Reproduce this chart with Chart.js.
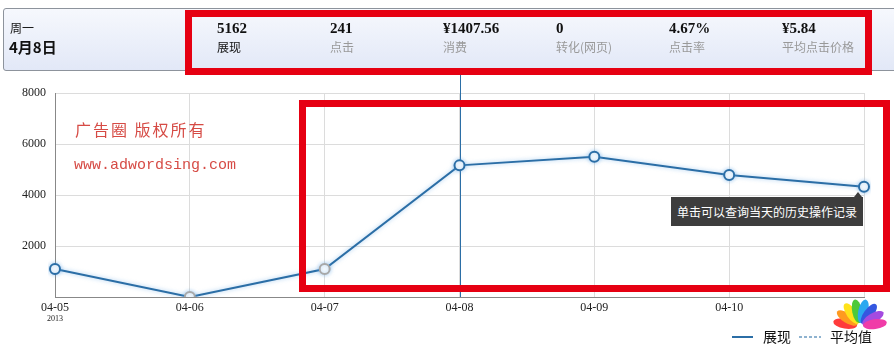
<!DOCTYPE html>
<html>
<head>
<meta charset="utf-8">
<script src="https://cdn.jsdelivr.net/npm/chart.js@4"></script>
<style>
  body { margin: 0; background: #fff; width: 894px; height: 349px; overflow: hidden; position: relative; font-family: "Noto Sans CJK SC", sans-serif; }
  #chart { position: absolute; left: 0; top: 0; }
  .hdr { position: absolute; left: 3px; top: 8px; width: 900px; height: 61px; border: 1px solid #8d939c; border-radius: 3px;
         background: linear-gradient(#f6f8fd, #e2e8f7); }
  .day { position: absolute; left: 10px; top: 21px; font-size: 12px; color: #111; line-height: 14px; }
  .date { position: absolute; left: 9px; top: 38px; font-size: 15px; font-weight: bold; color: #111; line-height: 18px; }
  .stat { position: absolute; top: 20px; }
  .stat b { display: block; font-family: "Liberation Serif", serif; font-size: 15px; color: #111; line-height: 17px; }
  .stat span { display: block; font-size: 12px; color: #999; line-height: 16px; margin-top: 2px; }
  .redbox { position: absolute; border: 7px solid #e60012; box-sizing: border-box; }
  .tip { position: absolute; left: 671px; top: 197px; width: 192px; height: 29px; background: #3d3d3d; color: #fff;
         font-size: 12px; line-height: 29px; text-align: center; white-space: nowrap; }
  .tip:after { content: ""; position: absolute; right: 1px; top: -5px; border-left: 4px solid transparent; border-right: 4px solid transparent; border-bottom: 5px solid #3d3d3d; }
</style>
</head>
<body>
<canvas id="chart" width="894" height="349"></canvas>
<div class="hdr"></div>
<div class="day">周一</div>
<div class="date">4月8日</div>
<div id="stats"></div>
<div class="redbox" style="left:185px;top:10px;width:687px;height:65px;"></div>
<div class="redbox" style="left:299px;top:100px;width:591px;height:192px;"></div>
<div class="tip">单击可以查询当天的历史操作记录</div>
<script>
// 数据
var labels = ["04-05", "04-06", "04-07", "04-08", "04-09", "04-10", "04-11"];
var impressions = [1100, 0, 1100, 5162, 5500, 4780, 4320];
var yTicks = [0, 2000, 4000, 6000, 8000];
var statValues = ["5162", "241", "¥1407.56", "0", "4.67%", "¥5.84"];
var statNames = ["展现", "点击", "消费", "转化(网页)", "点击率", "平均点击价格"];
var statLeft = [217, 330, 443, 556, 669, 782];
var selectedDay = 3; // 04-08

// 顶部汇总
var statsDiv = document.getElementById("stats");
statValues.forEach(function (v, i) {
  var d = document.createElement("div");
  d.className = "stat";
  d.style.left = statLeft[i] + "px";
  d.innerHTML = "<b>" + v + "</b><span" + (i === 0 ? ' style="color:#111"' : "") + ">" + statNames[i] + "</span>";
  statsDiv.appendChild(d);
});

var blue = "#2b6ea6";
var pointBorders = impressions.map(function (v, i) { return (i === 1 || i === 2) ? "#a8a8a8" : blue; });

// 额外绘制：水印、十字线、年份、图例、图标
var extras = {
  id: "extras",
  beforeDatasetsDraw: function (chart) {
    var ctx = chart.ctx, a = chart.chartArea;
    var x = chart.scales.x.getPixelForValue(selectedDay);
    ctx.save();
    ctx.strokeStyle = blue;
    ctx.lineWidth = 1;
    ctx.beginPath();
    ctx.moveTo(Math.round(x) + 0.5, 75);
    ctx.lineTo(Math.round(x) + 0.5, a.bottom);
    ctx.stroke();
    ctx.fillStyle = "#d64b45";
    ctx.font = "16px 'Noto Sans CJK SC'";
    ctx.textBaseline = "middle";
    ctx.letterSpacing = "2px";
    ctx.fillText("广告圈 版权所有", 75, 130);
    ctx.letterSpacing = "0px";
    ctx.font = "15px 'Liberation Mono'";
    ctx.fillText("www.adwordsing.com", 74, 165);
    ctx.restore();
  },
  beforeDatasetDraw: function (chart) {
    chart.ctx.save();
    chart.ctx.shadowColor = "rgba(90,160,225,0.55)";
    chart.ctx.shadowBlur = 4;
  },
  afterDatasetDraw: function (chart) {
    chart.ctx.restore();
  },
  afterDraw: function (chart) {
    var ctx = chart.ctx;
    ctx.save();
    ctx.fillStyle = "#222";
    ctx.font = "8px 'Liberation Serif'";
    ctx.textAlign = "center";
    ctx.fillText("2013", chart.scales.x.getPixelForValue(0), 321);
    // 图例
    ctx.textAlign = "left";
    ctx.textBaseline = "middle";
    ctx.strokeStyle = blue;
    ctx.lineWidth = 2;
    ctx.beginPath(); ctx.moveTo(732, 337); ctx.lineTo(753, 337); ctx.stroke();
    ctx.fillStyle = "#111";
    ctx.font = "14px 'Noto Sans CJK SC'";
    ctx.fillText("展现", 763, 337);
    ctx.strokeStyle = "#8fb3d0";
    ctx.setLineDash([3, 2]);
    ctx.beginPath(); ctx.moveTo(799, 337); ctx.lineTo(821, 337); ctx.stroke();
    ctx.setLineDash([]);
    ctx.fillText("平均值", 830, 337);
    // 图标
    var cols = ["#ff3b3b", "#ff9a1f", "#ffe21a", "#4cc93a", "#2aa8f0", "#3457e0", "#a44be0", "#f03ca8"];
    cols.forEach(function (c, i) {
      var ang = Math.PI * (1.05 + i * 0.13);
      ctx.save();
      ctx.translate(860 + Math.cos(ang) * 15, 326 + Math.sin(ang) * 15);
      ctx.rotate(ang + Math.PI / 2);
      ctx.fillStyle = c;
      ctx.beginPath(); ctx.ellipse(0, 0, 5, 12, 0, 0, Math.PI * 2); ctx.fill();
      ctx.restore();
    });
    ctx.restore();
  }
};

new Chart(document.getElementById("chart"), {
  type: "line",
  data: {
    labels: labels,
    datasets: [{
      label: "展现",
      data: impressions,
      borderColor: blue,
      borderWidth: 2,
      tension: 0,
      pointRadius: 5,
      pointHoverRadius: 5,
      pointBorderWidth: 2,
      pointBackgroundColor: "#fff",
      pointBorderColor: pointBorders
    }]
  },
  options: {
    responsive: false,
    animation: false,
    events: [],
    layout: { padding: { top: 93, right: 30, left: 0, bottom: 0 } },
    plugins: { legend: { display: false }, tooltip: { enabled: false } },
    scales: {
      x: {
        afterFit: function (s) { s.height = 52; },
        border: { color: "#888" },
        grid: { color: "#dcdcdc", tickLength: 0 },
        ticks: {
          padding: 4, color: "#222", maxRotation: 0, autoSkip: false,
          font: { family: "Liberation Serif", size: 12 },
          callback: function (v, i) { return i === labels.length - 1 ? "" : labels[i]; }
        }
      },
      y: {
        min: 0, max: 8000,
        afterFit: function (s) { s.width = 55; },
        afterBuildTicks: function (s) { s.ticks = yTicks.map(function (v) { return { value: v }; }); },
        border: { color: "#888" },
        grid: { color: "#dcdcdc", tickLength: 0 },
        ticks: {
          padding: 9, color: "#222",
          font: { family: "Liberation Serif", size: 12 },
          callback: function (v) { return v === 0 ? "" : v; }
        }
      }
    }
  },
  plugins: [extras]
});
</script>
</body>
</html>
